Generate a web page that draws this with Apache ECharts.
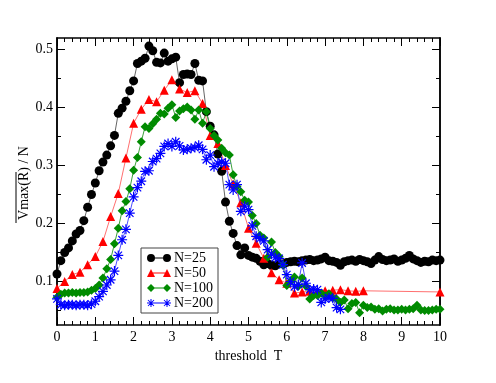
<!DOCTYPE html>
<html>
<head>
<meta charset="utf-8">
<script src="https://cdn.jsdelivr.net/npm/echarts@6/dist/echarts.min.js"></script>
<style>
  html, body { margin: 0; padding: 0; background: #fff; }
  #chart { width: 496px; height: 383px; }
</style>
</head>
<body>
<div id="chart"></div>
<script>
// thresholds (fine grid, step 0.1) used by N=25 and N=100
const tFine = [
  0, 0.1, 0.2, 0.3, 0.4, 0.5, 0.6, 0.7, 0.8, 0.9,
  1, 1.1, 1.2, 1.3, 1.4, 1.5, 1.6, 1.7, 1.8, 1.9,
  2, 2.1, 2.2, 2.3, 2.4, 2.5, 2.6, 2.7, 2.8, 2.9,
  3, 3.1, 3.2, 3.3, 3.4, 3.5, 3.6, 3.7, 3.8, 3.9,
  4, 4.1, 4.2, 4.3, 4.4, 4.5, 4.6, 4.7, 4.8, 4.9,
  5, 5.1, 5.2, 5.3, 5.4, 5.5, 5.6, 5.7, 5.8, 5.9,
  6, 6.1, 6.2, 6.3, 6.4, 6.5, 6.6, 6.7, 6.8, 6.9,
  7, 7.1, 7.2, 7.3, 7.4, 7.5, 7.6, 7.7, 7.8, 7.9,
  8, 8.1, 8.2, 8.3, 8.4, 8.5, 8.6, 8.7, 8.8, 8.9,
  9, 9.1, 9.2, 9.3, 9.4, 9.5, 9.6, 9.7, 9.8, 9.9,
  10
]

const n25 = [
  0.113, 0.136, 0.150, 0.158, 0.170, 0.182, 0.188, 0.205, 0.228, 0.250,
  0.270, 0.291, 0.306, 0.318, 0.334, 0.352, 0.390, 0.399, 0.411, 0.429,
  0.446, 0.476, 0.480, 0.485, 0.506, 0.498, 0.478, 0.477, 0.494, 0.480,
  0.484, 0.487, 0.443, 0.457, 0.458, 0.457, 0.476, 0.447, 0.446, 0.393,
  0.368, 0.353, 0.320, 0.290, 0.237, 0.204, 0.183, 0.162, 0.146, 0.158,
  0.145, 0.142, 0.140, 0.135, 0.129, 0.131, 0.128, 0.127, 0.131, 0.130,
  0.133, 0.134, 0.135, 0.134, 0.136, 0.137, 0.138, 0.136, 0.137, 0.139,
  0.142, 0.136, 0.135, 0.133, 0.128, 0.134, 0.136, 0.137, 0.135, 0.138,
  0.136, 0.134, 0.131, 0.137, 0.143, 0.138, 0.136, 0.137, 0.139, 0.135,
  0.137, 0.140, 0.145, 0.139, 0.136, 0.133, 0.135, 0.134, 0.137, 0.136,
  0.137
]

const n100 = [
  0.073, 0.078, 0.080, 0.080, 0.081, 0.080, 0.081, 0.081, 0.082, 0.085,
  0.088, 0.094, 0.106, 0.122, 0.138, 0.165, 0.192, 0.222, 0.238, 0.260,
  0.292, 0.314, 0.341, 0.367, 0.364, 0.372, 0.380, 0.390, 0.389, 0.399,
  0.405, 0.383, 0.394, 0.398, 0.401, 0.396, 0.380, 0.396, 0.373, 0.393,
  0.364, 0.352, 0.344, 0.330, 0.322, 0.318, 0.284, 0.264, 0.255, 0.240,
  0.237, 0.214, 0.200, 0.180, 0.175, 0.142, 0.168, 0.150, 0.143, 0.129,
  0.093, 0.100, 0.108, 0.092, 0.106, 0.092, 0.070, 0.076, 0.076, 0.080,
  0.075, 0.079, 0.072, 0.070, 0.064, 0.068, 0.053, 0.062, 0.064, 0.046,
  0.059, 0.055, 0.056, 0.052, 0.053, 0.049, 0.052, 0.053, 0.051, 0.051,
  0.052, 0.051, 0.052, 0.053, 0.059, 0.051, 0.050, 0.050, 0.051, 0.052,
  0.052
]

// N=200 stops at T = 7.4
const tBlue = tFine.slice(0, 75)
const n200 = [
  0.070, 0.060, 0.059, 0.060, 0.060, 0.059, 0.060, 0.060, 0.059, 0.061,
  0.066, 0.074, 0.083, 0.094, 0.103, 0.118, 0.145, 0.172, 0.190, 0.218,
  0.246, 0.262, 0.273, 0.290, 0.291, 0.307, 0.312, 0.321, 0.333, 0.338,
  0.333, 0.341, 0.334, 0.327, 0.328, 0.330, 0.331, 0.335, 0.328, 0.310,
  0.318, 0.298, 0.304, 0.306, 0.304, 0.267, 0.258, 0.267, 0.221, 0.230,
  0.224, 0.196, 0.178, 0.174, 0.170, 0.155, 0.147, 0.141, 0.140, 0.129,
  0.112, 0.100, 0.091, 0.095, 0.132, 0.097, 0.086, 0.087, 0.086, 0.064,
  0.070, 0.072, 0.071, 0.055, 0.052
]

// N=50 sampled every 0.2 up to 8, then a last point at 10
const tRed = [
  0, 0.2, 0.4, 0.6, 0.8, 1, 1.2, 1.4, 1.6, 1.8,
  2, 2.2, 2.4, 2.6, 2.8, 3, 3.2, 3.4, 3.6, 3.8,
  4, 4.2, 4.4, 4.6, 4.8, 5, 5.2, 5.4, 5.6, 5.8,
  6, 6.2, 6.4, 6.6, 6.8, 7, 7.2, 7.4, 7.6, 7.8,
  8, 10
]
const n50 = [
  0.088, 0.100, 0.112, 0.116, 0.129, 0.143, 0.169, 0.212, 0.252, 0.313,
  0.373, 0.397, 0.414, 0.410, 0.430, 0.448, 0.432, 0.426, 0.429, 0.407,
  0.352, 0.338, 0.300, 0.268, 0.236, 0.192, 0.166, 0.140, 0.115, 0.103,
  0.097, 0.080, 0.082, 0.083, 0.083, 0.084, 0.085, 0.086, 0.084, 0.083,
  0.084, 0.082
]

const xTicks = [0, 1, 2, 3, 4, 5, 6, 7, 8, 9, 10]
const yMajor = [0.1, 0.2, 0.3, 0.4, 0.5]
const yMinor = [0.05, 0.15, 0.25, 0.35, 0.45]

const serif = '"Liberation Serif", "DejaVu Serif", serif'

const pairs = (xs, ys) => ys.map((v, i) => [xs[i], v])

// asterisk made of four thin bars
const starPath = (cx, cy, r, w) => {
  const d = r * 0.75
  const o = w / Math.SQRT2
  return 'M' + (cx - r) + ',' + (cy - w) + 'L' + (cx + r) + ',' + (cy - w) + 'L' + (cx + r) + ',' + (cy + w) + 'L' + (cx - r) + ',' + (cy + w) + 'Z' +
    'M' + (cx - w) + ',' + (cy - r) + 'L' + (cx + w) + ',' + (cy - r) + 'L' + (cx + w) + ',' + (cy + r) + 'L' + (cx - w) + ',' + (cy + r) + 'Z' +
    'M' + (cx - d + o) + ',' + (cy - d - o) + 'L' + (cx + d + o) + ',' + (cy + d - o) + 'L' + (cx + d - o) + ',' + (cy + d + o) + 'L' + (cx - d - o) + ',' + (cy - d + o) + 'Z' +
    'M' + (cx + d - o) + ',' + (cy - d - o) + 'L' + (cx + d + o) + ',' + (cy - d + o) + 'L' + (cx - d + o) + ',' + (cy + d + o) + 'L' + (cx - d - o) + ',' + (cy + d - o) + 'Z'
}

const starSymbol = 'path://' + starPath(5, 5, 5, 0.6)

// legend icons: symbol - line - symbol
const bar = 'M4,3.6L20,3.6L20,4.4L4,4.4Z'
const icons = {
  circle: 'path://M0,4A4,4,0,1,1,8,4A4,4,0,1,1,0,4ZM16,4A4,4,0,1,1,24,4A4,4,0,1,1,16,4Z' + bar,
  triangle: 'path://M0,8L4,0L8,8ZM16,8L20,0L24,8Z' + bar,
  diamond: 'path://M0,4L4,0L8,4L4,8ZM16,4L20,0L24,4L20,8Z' + bar,
  star: 'path://' + starPath(4, 4, 4, 0.5) + starPath(20, 4, 4, 0.5) + bar
}

const valueAxisBase = {
  type: 'value',
  axisLine: { show: true, lineStyle: { color: '#000', width: 1.5 } },
  splitLine: { show: false }
}

const makeX = (position, showLabel) => ({
  ...valueAxisBase,
  position: position,
  min: 0,
  max: 10,
  interval: 1,
  axisTick: { inside: true, length: 8, lineStyle: { color: '#000' } },
  minorTick: { show: true, splitNumber: 5, length: 4, lineStyle: { color: '#000' } },
  axisLabel: {
    show: showLabel,
    customValues: xTicks,
    color: '#000',
    fontFamily: serif,
    fontSize: 14,
    margin: 5
  }
})

const makeY = (position, ticks, len, showLabel) => ({
  ...valueAxisBase,
  position: position,
  min: 0.025,
  max: 0.52,
  axisTick: { inside: true, length: len, customValues: ticks, lineStyle: { color: '#000' } },
  axisLabel: {
    show: showLabel,
    customValues: ticks,
    formatter: (v) => String(v),
    color: '#000',
    fontFamily: serif,
    fontSize: 14,
    margin: 4
  }
})

const xBottom = makeX('bottom', true)
xBottom.name = 'threshold  T'
xBottom.nameLocation = 'middle'
xBottom.nameGap = 20
xBottom.nameTextStyle = { color: '#000', fontFamily: serif, fontSize: 14 }

const chart = echarts.init(document.getElementById('chart'))

chart.setOption({
  animation: false,
  backgroundColor: '#fff',
  grid: { left: 57, right: 56, top: 38, bottom: 58 },
  xAxis: [xBottom, makeX('top', false)],
  yAxis: [
    makeY('left', yMajor, 8, true),
    makeY('left', yMinor, 4, false),
    makeY('right', yMajor, 8, false),
    makeY('right', yMinor, 4, false)
  ],
  legend: {
    orient: 'vertical',
    left: 141,
    top: 248,
    padding: [3, 5, 3, 6],
    itemGap: 1,
    itemWidth: 24,
    itemHeight: 8,
    borderColor: '#444',
    borderWidth: 1,
    textStyle: { color: '#000', fontFamily: serif, fontSize: 14, padding: [0, 0, 0, -2] },
    data: [
      { name: 'N=25', icon: icons.circle },
      { name: 'N=50', icon: icons.triangle },
      { name: 'N=100', icon: icons.diamond },
      { name: 'N=200', icon: icons.star }
    ]
  },
  graphic: [
    {
      type: 'group',
      x: 24,
      y: 183,
      rotation: Math.PI / 2,
      children: [
        {
          type: 'text',
          style: {
            text: 'Vmax(R) / N',
            fill: '#000',
            font: '14px ' + serif,
            align: 'center',
            verticalAlign: 'middle'
          }
        },
        {
          type: 'line',
          shape: { x1: -40, y1: -8, x2: 11, y2: -8 },
          style: { stroke: '#000', lineWidth: 1 }
        }
      ]
    }
  ],
  series: [
    {
      name: 'N=25',
      type: 'line',
      data: pairs(tFine, n25),
      symbol: 'circle',
      symbolSize: 9,
      itemStyle: { color: '#000' },
      lineStyle: { color: '#666', width: 1 }
    },
    {
      name: 'N=50',
      type: 'line',
      data: pairs(tRed, n50),
      symbol: 'triangle',
      symbolSize: 9,
      itemStyle: { color: '#ff0000' },
      lineStyle: { color: '#ff7070', width: 1 }
    },
    {
      name: 'N=100',
      type: 'line',
      data: pairs(tFine, n100),
      symbol: 'diamond',
      symbolSize: 9,
      itemStyle: { color: '#008b00' },
      lineStyle: { color: '#3aa03a', width: 1 }
    },
    {
      name: 'N=200',
      type: 'line',
      data: pairs(tBlue, n200),
      symbol: starSymbol,
      symbolSize: 10,
      itemStyle: { color: '#0000ff' },
      lineStyle: { color: '#5050ff', width: 1 }
    }
  ]
})
</script>
</body>
</html>
